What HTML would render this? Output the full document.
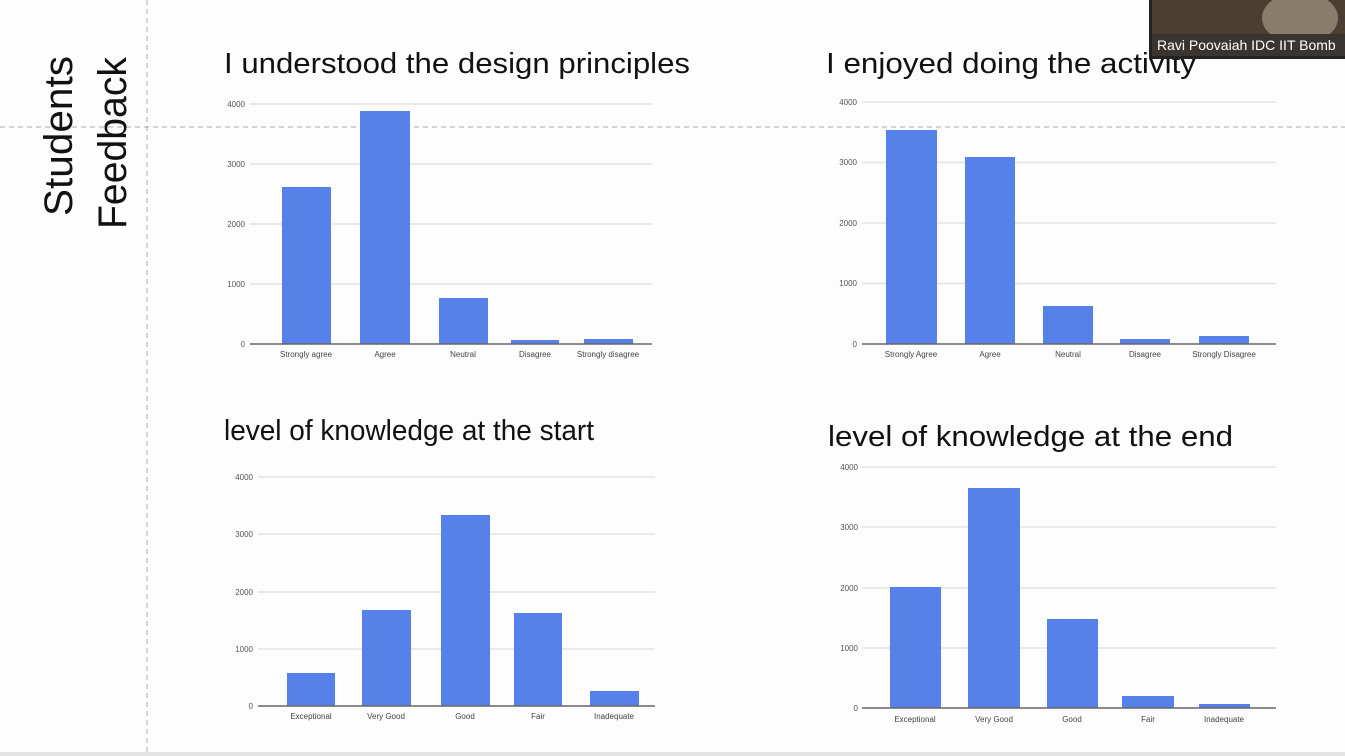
<!DOCTYPE html>
<html><head><meta charset="utf-8"><style>
html,body{margin:0;padding:0;background:#fdfdfd;}
svg{display:block;}
text{font-family:"Liberation Sans",sans-serif;}
</style></head><body>
<svg width="1345" height="756" viewBox="0 0 1345 756" xmlns="http://www.w3.org/2000/svg">
<rect width="1345" height="756" fill="#fdfdfd"/>
<rect x="0" y="752" width="1345" height="4" fill="#e4e4e4"/>
<line x1="147" y1="0" x2="147" y2="756" stroke="#aaa" stroke-dasharray="5,4"/>
<line x1="0" y1="127" x2="1345" y2="127" stroke="#aaa" stroke-dasharray="5,4"/>
<text transform="translate(72,216) rotate(-90)" font-size="40" fill="#111" textLength="160" lengthAdjust="spacingAndGlyphs">Students</text>
<text transform="translate(126,229) rotate(-90)" font-size="40" fill="#111" textLength="172" lengthAdjust="spacingAndGlyphs">Feedback</text>

<g font-size="29" fill="#111">
<text x="224" y="73" textLength="466" lengthAdjust="spacingAndGlyphs">I understood the design principles</text>
<text x="826" y="73" textLength="370" lengthAdjust="spacingAndGlyphs">I enjoyed doing the activity</text>
<text x="224" y="440" textLength="370" lengthAdjust="spacingAndGlyphs">level of knowledge at the start</text>
<text x="828" y="446" textLength="405" lengthAdjust="spacingAndGlyphs">level of knowledge at the end</text>
</g>

<g stroke="#e3e3e3" stroke-width="1.5">
<line x1="250" y1="104" x2="652" y2="104"/><line x1="250" y1="164" x2="652" y2="164"/><line x1="250" y1="224" x2="652" y2="224"/><line x1="250" y1="284" x2="652" y2="284"/>
<line x1="862" y1="102" x2="1276" y2="102"/><line x1="862" y1="162.5" x2="1276" y2="162.5"/><line x1="862" y1="223" x2="1276" y2="223"/><line x1="862" y1="283.5" x2="1276" y2="283.5"/>
<line x1="258" y1="477" x2="655" y2="477"/><line x1="258" y1="534" x2="655" y2="534"/><line x1="258" y1="592" x2="655" y2="592"/><line x1="258" y1="649" x2="655" y2="649"/>
<line x1="862" y1="467" x2="1276" y2="467"/><line x1="862" y1="527" x2="1276" y2="527"/><line x1="862" y1="588" x2="1276" y2="588"/><line x1="862" y1="648" x2="1276" y2="648"/>
</g>

<g fill="#5581e8">
<rect x="282" y="187" width="49" height="157"/><rect x="360" y="111" width="50" height="233"/><rect x="439" y="298" width="49" height="46"/><rect x="511" y="340" width="48" height="4"/><rect x="584" y="339" width="49" height="5"/>
<rect x="886" y="130" width="51" height="214"/><rect x="965" y="157" width="50" height="187"/><rect x="1043" y="306" width="50" height="38"/><rect x="1120" y="339" width="50" height="5"/><rect x="1199" y="336" width="50" height="8"/>
<rect x="287" y="673" width="48" height="33"/><rect x="362" y="610" width="49" height="96"/><rect x="441" y="515" width="49" height="191"/><rect x="514" y="613" width="48" height="93"/><rect x="590" y="691" width="49" height="15"/>
<rect x="890" y="587" width="51" height="121"/><rect x="968" y="488" width="52" height="220"/><rect x="1047" y="619" width="51" height="89"/><rect x="1122" y="696" width="52" height="12"/><rect x="1199" y="704" width="51" height="4"/>
</g>

<g stroke="#666" stroke-width="1.5">
<line x1="250" y1="344" x2="652" y2="344"/>
<line x1="862" y1="344" x2="1276" y2="344"/>
<line x1="258" y1="706" x2="655" y2="706"/>
<line x1="862" y1="708" x2="1276" y2="708"/>
</g>

<g font-size="8" fill="#555" text-anchor="end">
<text x="245" y="107">4000</text><text x="245" y="167">3000</text><text x="245" y="227">2000</text><text x="245" y="287">1000</text><text x="245" y="347">0</text>
<text x="857" y="105">4000</text><text x="857" y="165">3000</text><text x="857" y="226">2000</text><text x="857" y="286">1000</text><text x="857" y="347">0</text>
<text x="253" y="480">4000</text><text x="253" y="537">3000</text><text x="253" y="595">2000</text><text x="253" y="652">1000</text><text x="253" y="709">0</text>
<text x="858" y="470">4000</text><text x="858" y="530">3000</text><text x="858" y="591">2000</text><text x="858" y="651">1000</text><text x="858" y="711">0</text>
</g>
<g font-size="8" fill="#444" text-anchor="middle">
<text x="306" y="357">Strongly agree</text><text x="385" y="357">Agree</text><text x="463" y="357">Neutral</text><text x="535" y="357">Disagree</text><text x="608" y="357">Strongly disagree</text>
<text x="911" y="357">Strongly Agree</text><text x="990" y="357">Agree</text><text x="1068" y="357">Neutral</text><text x="1145" y="357">Disagree</text><text x="1224" y="357">Strongly Disagree</text>
<text x="311" y="719">Exceptional</text><text x="386" y="719">Very Good</text><text x="465" y="719">Good</text><text x="538" y="719">Fair</text><text x="614" y="719">Inadequate</text>
<text x="915" y="722">Exceptional</text><text x="994" y="722">Very Good</text><text x="1072" y="722">Good</text><text x="1148" y="722">Fair</text><text x="1224" y="722">Inadequate</text>
</g>

<rect x="1149" y="0" width="196" height="59" fill="#222"/>
<rect x="1152" y="0" width="193" height="34" fill="#4a3f30"/>
<ellipse cx="1300" cy="18" rx="38" ry="26" fill="#8a7c6a"/>
<rect x="1152" y="34" width="193" height="22" fill="#3a3530"/>
<text x="1157" y="50" font-size="14" fill="#fff">Ravi Poovaiah IDC IIT Bomb</text>
</svg>
</body></html>
